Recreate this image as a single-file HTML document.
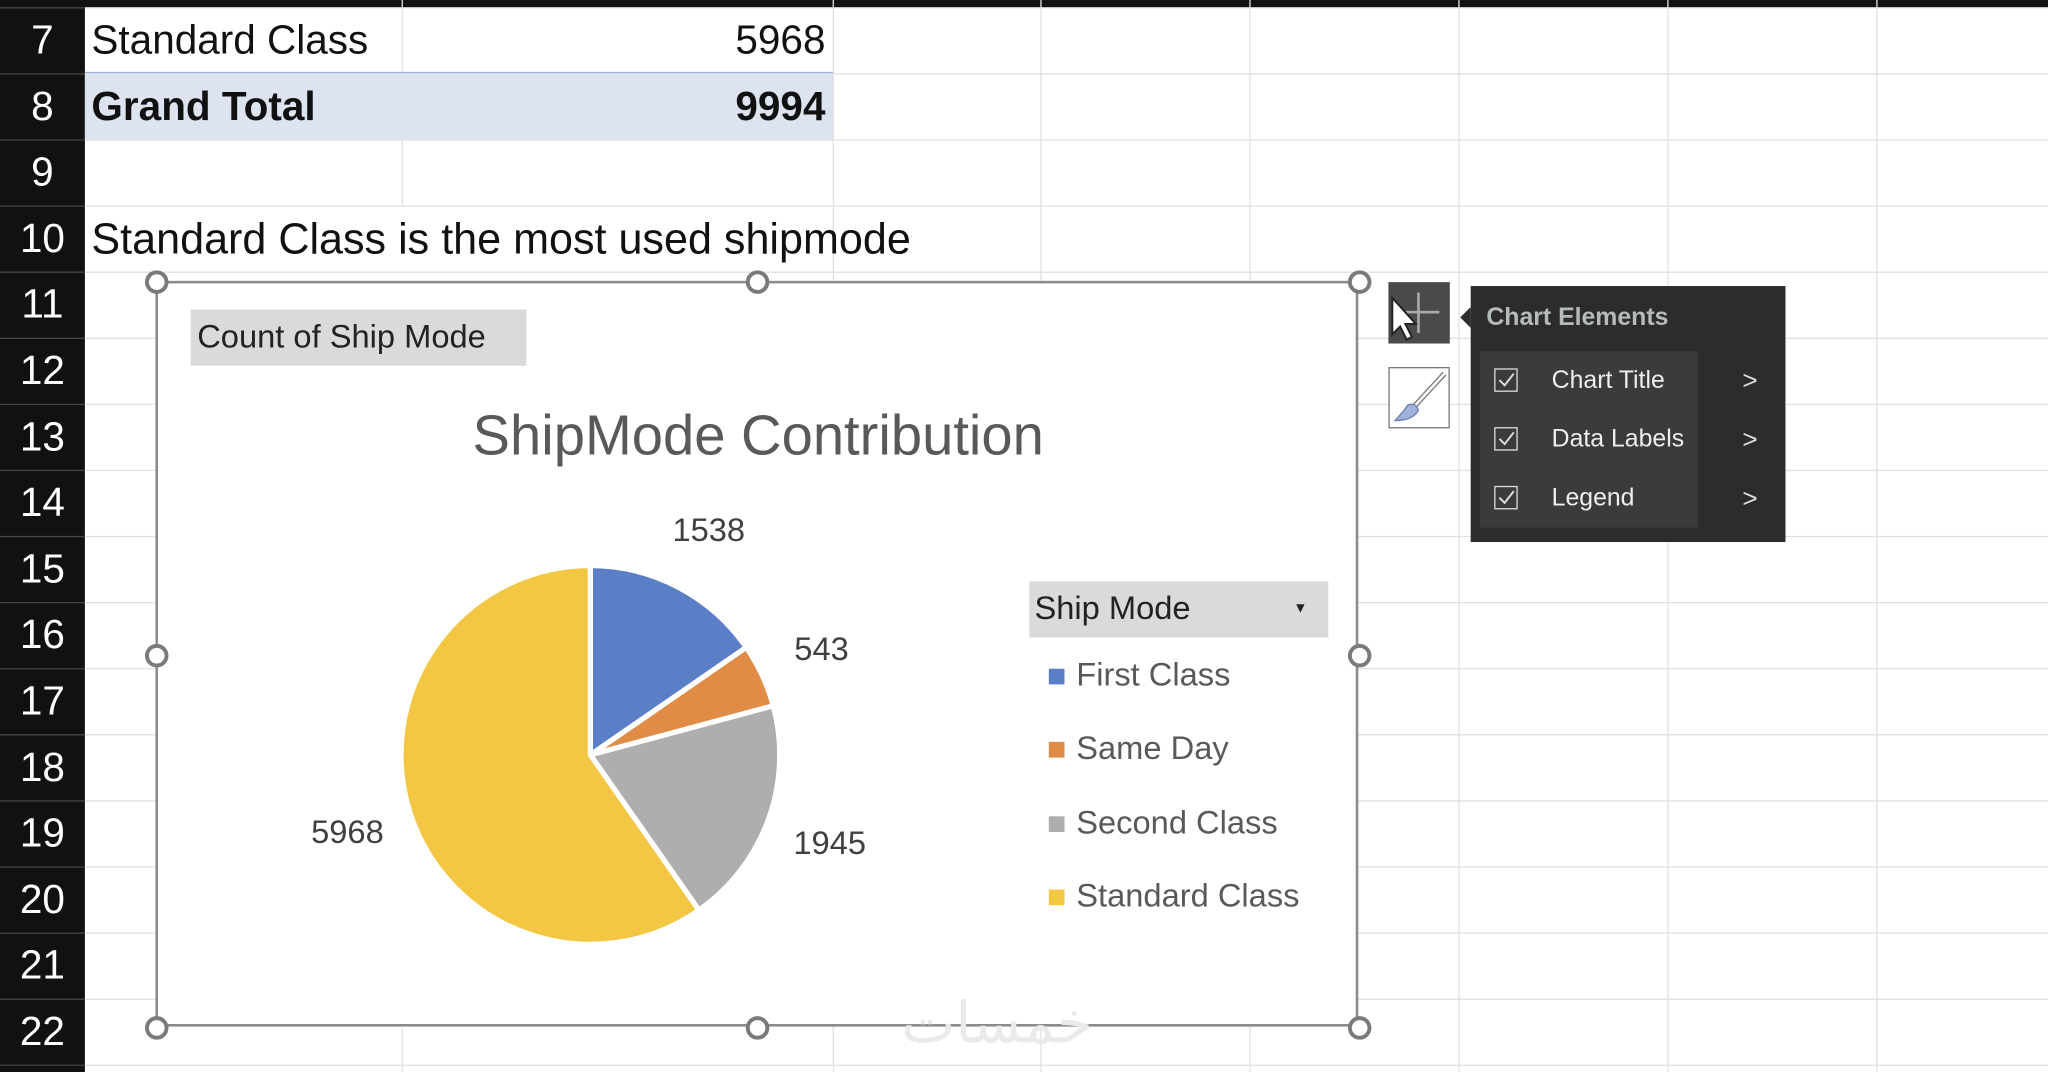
<!DOCTYPE html>
<html><head><meta charset="utf-8">
<style>
html,body{margin:0;padding:0;background:#fff;overflow:hidden}
#wrap{width:2048px;height:1072px;position:relative;overflow:hidden}
#page{width:1568px;height:821px;position:absolute;left:0;top:0;transform:scale(1.30612);transform-origin:0 0;font-family:"Liberation Sans",sans-serif}
.abs{position:absolute}
.rowh{position:absolute;left:0;width:65px;color:#fff;font-size:31px;text-align:center;line-height:50px}
.cell{position:absolute;font-size:31px;color:#111;line-height:50px;white-space:nowrap}
.ce-item{position:absolute;left:14px;width:160px;height:44px;color:#eee;font-size:19px;line-height:44px}
.cb{position:absolute;left:4px;top:12px;width:18px;height:18px;border:1.5px solid #ddd;box-sizing:border-box}
.cb svg{position:absolute;left:1px;top:1px}
.arrow{position:absolute;left:194px;color:#ddd;font-size:20px}
</style></head><body>
<div id="wrap">
<div id="page">
<svg class="abs" style="left:0;top:0" width="1568" height="821">
  <rect x="0" y="0" width="1568" height="6" fill="#111"/>
  <rect x="0" y="0" width="65" height="821" fill="#111"/>
  <g stroke="#e1e1e1" stroke-width="1">
    <line x1="308" y1="107" x2="308" y2="157"/><line x1="308" y1="0" x2="308" y2="56"/>
    <line x1="638" y1="0" x2="638" y2="821"/><line x1="797" y1="0" x2="797" y2="821"/>
    <line x1="957" y1="0" x2="957" y2="821"/><line x1="1117" y1="0" x2="1117" y2="821"/>
    <line x1="1277" y1="0" x2="1277" y2="821"/><line x1="1437" y1="0" x2="1437" y2="821"/>
    <line x1="308" y1="787" x2="308" y2="821"/>
  </g>
  <g stroke="#e1e1e1" id="hlines"></g>
  <g stroke="#444" id="hlines2"></g>
</svg>
<div class="abs" style="left:65px;top:56px;width:573px;height:51px;background:#dde4f0"></div>
<div class="abs" style="left:65px;top:55px;width:573px;height:1px;background:#9fb3d6"></div>
<div id="rowheads"></div>
<div class="cell" style="left:70px;top:6px">Standard Class</div>
<div class="cell" style="left:540px;top:6px;width:92px;text-align:right">5968</div>
<div class="cell" style="left:70px;top:57px;font-weight:bold">Grand Total</div>
<div class="cell" style="left:540px;top:57px;width:92px;text-align:right;font-weight:bold">9994</div>
<div class="cell" style="left:70px;top:158px;font-size:33px">Standard Class is the most used shipmode</div>

<div class="abs" style="left:120px;top:216px;width:921px;height:571px;background:#fff;border:2px solid #8c8c8c;box-sizing:border-box;margin:-1px"></div>
<svg class="abs" style="left:0;top:0" width="1568" height="821" id="chart"></svg>
<div class="abs" style="left:146px;top:237px;width:257px;height:43px;background:#dadada;font-size:25px;line-height:43px;color:#222;text-indent:5px">Count of Ship Mode</div>
<div class="abs" style="left:120px;top:310px;width:921px;text-align:center;font-size:43px;color:#595959">ShipMode Contribution</div>
<div class="abs" style="left:788px;top:445px;width:229px;height:43px;background:#dadada;font-size:25px;line-height:43px;color:#222;text-indent:4px">Ship Mode<span style="position:absolute;right:16px;top:0;font-size:11px">▼</span></div>
<div id="legend"></div>

<div class="abs" style="left:1063px;top:216px;width:47px;height:47px;background:#4a4a4a">
  <div class="abs" style="left:22px;top:8px;width:2px;height:31px;background:#aaa"></div>
  <div class="abs" style="left:8px;top:22px;width:31px;height:2px;background:#aaa"></div>
  <svg class="abs" style="left:0;top:10px" width="26" height="40"><path d="M3 2 L3 30 L9 24 L14 34 L18 32 L13 22 L21 22 Z" fill="#fff" stroke="#222" stroke-width="1.5"/></svg>
</div>
<div class="abs" style="left:1063px;top:281px;width:47px;height:47px;background:#fff;border:1px solid #777;box-sizing:border-box">
  <svg width="47" height="47"><line x1="18" y1="30" x2="42" y2="4" stroke="#777" stroke-width="4"/><line x1="18" y1="30" x2="42" y2="4" stroke="#fff" stroke-width="2"/><path d="M4 40 Q10 34 14 28 Q20 26 22 32 Q18 40 4 40Z" fill="#9fb2d9" stroke="#6b7fb0"/></svg>
</div>
<div class="abs" style="left:1126px;top:219px;width:241px;height:196px;background:#2c2c2c">
  <div class="abs" style="left:-8px;top:16px;width:0;height:0;border-top:8px solid transparent;border-bottom:8px solid transparent;border-right:8px solid #2c2c2c"></div>
  <div class="abs" style="left:12px;top:14px;color:#b5bcb8;font-weight:bold;font-size:19px">Chart Elements</div>
  <div class="abs" style="left:7px;top:50px;width:167px;height:135px;background:#3b3b3b"></div>
  <div class="ce-item" style="top:51px"><div class="cb"><svg width="14" height="14"><path d="M2 7 L6 11 L13 2" fill="none" stroke="#ddd" stroke-width="1.5"/></svg></div><span style="position:absolute;left:48px">Chart Title</span><span class="arrow">&gt;</span></div>
  <div class="ce-item" style="top:96px"><div class="cb"><svg width="14" height="14"><path d="M2 7 L6 11 L13 2" fill="none" stroke="#ddd" stroke-width="1.5"/></svg></div><span style="position:absolute;left:48px">Data Labels</span><span class="arrow">&gt;</span></div>
  <div class="ce-item" style="top:141px"><div class="cb"><svg width="14" height="14"><path d="M2 7 L6 11 L13 2" fill="none" stroke="#ddd" stroke-width="1.5"/></svg></div><span style="position:absolute;left:48px">Legend</span><span class="arrow">&gt;</span></div>
</div>
<div class="abs" style="left:690px;top:758px;font-size:44px;color:#eaeaea;font-family:'DejaVu Sans',sans-serif">خمسات</div>
</div></div>
<script>
const categories=["First Class","Same Day","Second Class","Standard Class"];
const values=[1538,543,1945,5968];
const colors=["#5b7fc7","#e08c47","#aeaeae","#f3c744"];
const NS="http://www.w3.org/2000/svg";
const hl=document.getElementById('hlines');
for(let i=0;i<=16;i++){const y=6+i*50.6;
  const l=document.createElementNS(NS,'line');l.setAttribute('x1',65);l.setAttribute('x2',1568);l.setAttribute('y1',y);l.setAttribute('y2',y);hl.appendChild(l);
  const l2=document.createElementNS(NS,'line');l2.setAttribute('x1',0);l2.setAttribute('x2',65);l2.setAttribute('y1',y);l2.setAttribute('y2',y);document.getElementById('hlines2').appendChild(l2);}
const rh=document.getElementById('rowheads');
for(let r=7;r<=22;r++){const d=document.createElement('div');d.className='rowh';d.style.top=(6+(r-7)*50.6)+'px';d.textContent=r;


rh.appendChild(d);}
const svg=document.getElementById('chart');
const cx=452,cy=578,R=145,LR=195;
const total=values.reduce((a,b)=>a+b,0);
function pt(a,r){return [cx+r*Math.sin(a),cy-r*Math.cos(a)];}
let acc=0;
values.forEach((v,i)=>{
  const a0=acc/total*2*Math.PI;acc+=v;const a1=acc/total*2*Math.PI;
  const p0=pt(a0,R),p1=pt(a1,R);
  const p=document.createElementNS(NS,'path');
  p.setAttribute('d',`M${cx},${cy}L${p0[0]},${p0[1]}A${R},${R} 0 ${a1-a0>Math.PI?1:0} 1 ${p1[0]},${p1[1]}Z`);
  p.setAttribute('fill',colors[i]);p.setAttribute('stroke','#fff');p.setAttribute('stroke-width','4');p.setAttribute('stroke-linejoin','round');
  
  
  svg.appendChild(p);
  const m=pt((a0+a1)/2,LR);
  const t=document.createElementNS(NS,'text');
  t.setAttribute('x',m[0]);t.setAttribute('y',m[1]+9);t.setAttribute('text-anchor','middle');
  t.setAttribute('font-size','25');t.setAttribute('fill','#404040');t.setAttribute('font-family','Liberation Sans, sans-serif');
  t.textContent=v;
  
  
  svg.appendChild(t);
});
[[120,216],[580,216],[1041,216],[120,502],[1041,502],[120,787],[580,787],[1041,787]].forEach((h,i)=>{
  const c=document.createElementNS(NS,'circle');c.setAttribute('cx',h[0]);c.setAttribute('cy',h[1]);c.setAttribute('r',7.5);
  c.setAttribute('fill','#fff');c.setAttribute('stroke','#7a7a7a');c.setAttribute('stroke-width','3');
  
  
  svg.appendChild(c);
});
const lg=document.getElementById('legend');
categories.forEach((c,i)=>{
  const d=document.createElement('div');d.className='abs';
  d.style.cssText=`left:803px;top:${500+i*56.3}px;height:34px;font-size:25px;line-height:34px;color:#595959;white-space:nowrap`;
  d.innerHTML=`<span style="display:inline-block;width:12px;height:12px;background:${colors[i]};margin-right:9px;vertical-align:1px"></span>${c}`;
  
  
  lg.appendChild(d);
});
</script>
</body></html>
